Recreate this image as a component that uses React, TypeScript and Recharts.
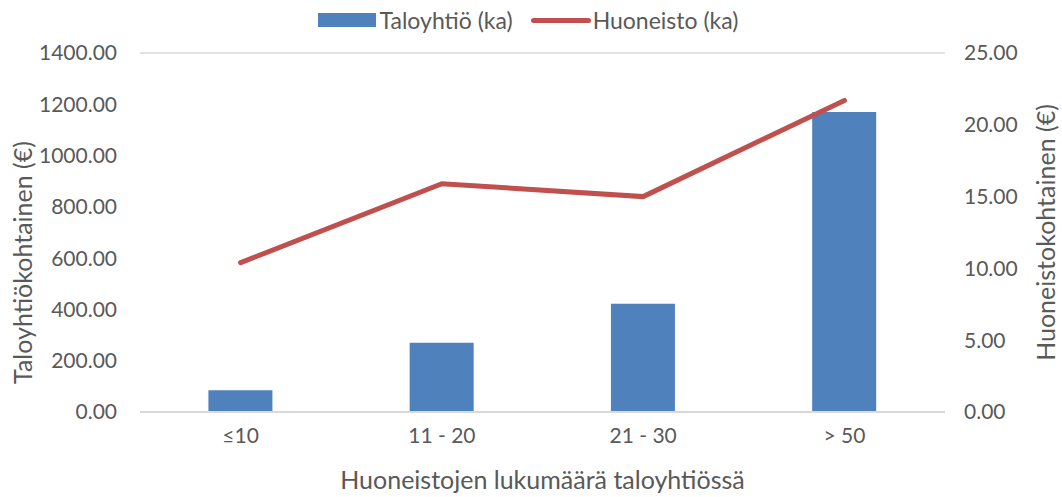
import React, { useEffect } from "react";
import {
  ComposedChart,
  Bar,
  Line,
  XAxis,
  YAxis,
  CartesianGrid,
  Legend,
} from "recharts";

const categories = ["≤10", "11 - 20", "21 - 30", "> 50"];
const taloyhtioKa = [85, 270, 422, 1170];
const huoneistoKa = [10.4, 15.9, 15.0, 21.7];
const leftTicks = [0, 200, 400, 600, 800, 1000, 1200, 1400];
const rightTicks = [0, 5, 10, 15, 20, 25];

const FONT = "Lato, 'Open Sans', sans-serif";
const TEXT = "#595959";
const BLUE = "#4f81bd";
const RED = "#c0504d";

const data = categories.map((c, i) => ({
  name: c,
  taloyhtio: taloyhtioKa[i],
  huoneisto: huoneistoKa[i],
}));

// legend drawn like the Excel one: box for bars, thick line for the series line
const LegendContent = () => (
  <div
    style={{
      display: "flex",
      justifyContent: "center",
      alignItems: "center",
      fontFamily: FONT,
      fontSize: 23,
      color: TEXT,
      height: 30,
      marginLeft: -6,
    }}
  >
    <span style={{ display: "inline-block", width: 58, height: 14, background: BLUE, marginRight: 4 }} />
    <span style={{ marginRight: 18 }}>Taloyhtiö (ka)</span>
    <span style={{ display: "inline-block", width: 60, height: 5, borderRadius: 3, background: RED, marginRight: 2 }} />
    <span>Huoneisto (ka)</span>
  </div>
);

// rotated axis title, centre given relative to the axis viewBox
const vertLabel = (text: string, cx: (vb: any) => number, cy: (vb: any) => number) => (props: any) => {
  const vb = props.viewBox;
  const x = cx(vb);
  const y = cy(vb);
  return (
    <text
      x={x}
      y={y}
      transform={`rotate(-90, ${x}, ${y})`}
      textAnchor="middle"
      dominantBaseline="central"
      fill={TEXT}
      fontSize={25}
      fontFamily={FONT}
    >
      {text}
    </text>
  );
};

export default function App() {
  useEffect(() => {
    document.body.style.margin = "0";
  }, []);

  const tickStyle = { fill: TEXT, fontSize: 21, fontFamily: FONT };

  return (
    <div style={{ width: 1062, height: 497, background: "#fff" }}>
      <ComposedChart
        width={1062}
        height={497}
        data={data}
        margin={{ top: 5, right: 0, left: 0, bottom: 0 }}
        barCategoryGap="34%"
      >
        <CartesianGrid vertical={false} stroke="#d9d9d9" strokeWidth={1.5} />
        <XAxis
          dataKey="name"
          height={85}
          tickSize={0}
          tickMargin={16}
          axisLine={{ stroke: "#d9d9d9", strokeWidth: 2 }}
          tick={tickStyle}
          label={{
            value: "Huoneistojen lukumäärä taloyhtiössä",
            position: "insideBottom",
            offset: 8,
            style: { fill: TEXT, fontSize: 25, fontFamily: FONT },
          }}
        />
        <YAxis
          yAxisId="left"
          width={140}
          domain={[0, 1400]}
          ticks={leftTicks}
          tickSize={0}
          tickMargin={23}
          axisLine={false}
          tickFormatter={(v: number) => v.toFixed(2)}
          tick={tickStyle}
          label={{
            content: vertLabel(
              "Taloyhtiökohtainen (€)",
              (vb) => vb.x + 22,
              (vb) => vb.y + vb.height / 2 + 30
            ),
          }}
        />
        <YAxis
          yAxisId="right"
          orientation="right"
          width={117}
          domain={[0, 25]}
          ticks={rightTicks}
          tickSize={0}
          tickMargin={19}
          axisLine={false}
          tickFormatter={(v: number) => v.toFixed(2)}
          tick={{ ...tickStyle, textAnchor: "start" }}
          label={{
            content: vertLabel(
              "Huoneistokohtainen (€)",
              (vb) => vb.x + vb.width - 17,
              (vb) => vb.y + vb.height / 2
            ),
          }}
        />
        <Legend
          verticalAlign="top"
          align="center"
          content={<LegendContent />}
          wrapperStyle={{ height: 48 }}
        />
        <Bar
          yAxisId="left"
          dataKey="taloyhtio"
          name="Taloyhtiö (ka)"
          fill={BLUE}
          isAnimationActive={false}
        />
        <Line
          yAxisId="right"
          dataKey="huoneisto"
          name="Huoneisto (ka)"
          type="linear"
          stroke={RED}
          strokeWidth={5}
          strokeLinecap="round"
          dot={false}
          activeDot={false}
          isAnimationActive={false}
        />
      </ComposedChart>
    </div>
  );
}
